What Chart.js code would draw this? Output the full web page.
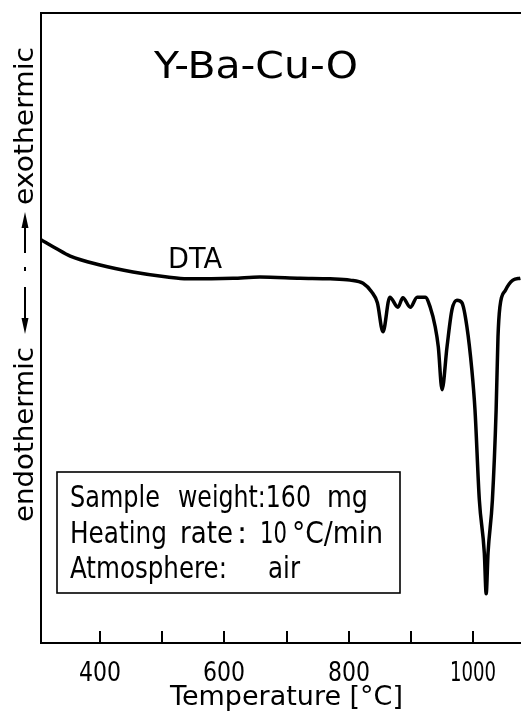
<!DOCTYPE html>
<html lang="en">
<head>
    <meta charset="UTF-8">
    <title>Y-Ba-Cu-O DTA</title>
    <script src="https://cdn.jsdelivr.net/npm/chart.js@4.4.1/dist/chart.umd.min.js"></script>
    <style>
        body {margin: 0; background: #fff;}
        #wrap {width: 521px; height: 716px;}
    </style>
</head>
<body>
    <div id="wrap">
        <canvas id="dtaChart" width="521" height="716"></canvas>
    </div>

    <script>
        // DTA trace (signal in arbitrary units, 0..100)
        const temperatures = [305, 328, 352, 400, 453, 508, 540, 614, 657, 722, 770, 802, 823, 837, 846, 855,
                              866, 879, 887, 899, 910, 923, 931, 939, 944, 950, 958, 966, 974, 982, 990, 998,
                              1003, 1010, 1018, 1021, 1024, 1031, 1037, 1040, 1043, 1052, 1064, 1076];
        const dtaSignal = [64.0, 62.7, 61.4, 60.0, 58.9, 58.1, 57.8, 57.9, 58.1, 57.9, 57.8, 57.6, 57.1, 55.7, 54.0, 49.4,
                           54.9, 53.3, 54.8, 53.3, 54.9, 54.9, 53.3, 50.2, 47.0, 40.2, 47.0, 52.9, 54.4, 54.0, 50.2, 43.3,
                           37.0, 22.7, 14.3, 7.8, 14.3, 22.7, 37.0, 48.6, 53.3, 56.0, 57.6, 57.9];
        const xTickValues = [400, 500, 600, 700, 800, 900, 1000];
        const xTickLabels = ['400', '', '600', '', '800', '', '1000'];

        const FONT = '"DejaVu Sans", sans-serif';

        // the lettering in the original is narrow, so squeeze text into a width
        function drawFit(ctx, text, x, y, size, width) {
            ctx.save();
            ctx.font = size + 'px ' + FONT;
            const w = ctx.measureText(text).width;
            const sx = width ? width / w : 1;
            ctx.translate(x, y);
            ctx.scale(sx, 1);
            ctx.fillText(text, 0, 0);
            ctx.restore();
        }

        // frame, inward ticks and all the hand-lettered texts
        const decorPlugin = {
            id: 'decor',
            afterDraw(chart) {
                const ctx = chart.ctx;
                const area = chart.chartArea;
                const xs = chart.scales.x;
                ctx.save();
                ctx.strokeStyle = '#000';
                ctx.fillStyle = '#000';
                ctx.textAlign = 'left';
                ctx.textBaseline = 'alphabetic';

                // top frame line
                ctx.lineWidth = 2;
                ctx.beginPath();
                ctx.moveTo(area.left, area.top);
                ctx.lineTo(area.right, area.top);
                ctx.stroke();

                // inward ticks + labels
                xTickValues.forEach(function (v, i) {
                    const px = Math.round(xs.getPixelForValue(v));
                    ctx.beginPath();
                    ctx.moveTo(px, area.bottom);
                    ctx.lineTo(px, area.bottom - 12);
                    ctx.stroke();
                    const lbl = xTickLabels[i];
                    if (lbl) {
                        const w = lbl.length > 3 ? 46 : 42;
                        drawFit(ctx, lbl, px - w / 2, 681, 27, w);
                    }
                });

                // title and curve label
                drawFit(ctx, 'Y-Ba-Cu-O', 154, 78, 37, 204);
                drawFit(ctx, 'DTA', 168, 268, 28, 54);

                // info box
                ctx.lineWidth = 1.6;
                ctx.strokeRect(57, 472, 343, 121);
                drawFit(ctx, 'Sample', 70, 507, 30, 90);
                drawFit(ctx, 'weight:160', 178, 507, 30, 133);
                drawFit(ctx, 'mg', 327, 507, 30, 41);
                drawFit(ctx, 'Heating', 70, 543, 30, 97);
                drawFit(ctx, 'rate', 180, 543, 30, 53);
                drawFit(ctx, ':', 237, 543, 30, 0);
                drawFit(ctx, '10', 260, 543, 30, 27);
                drawFit(ctx, '°C/min', 292, 543, 30, 91);
                drawFit(ctx, 'Atmosphere:', 70, 578, 30, 157);
                drawFit(ctx, 'air', 268, 578, 30, 32);

                // x axis title
                drawFit(ctx, 'Temperature [°C]', 170, 705, 26, 233);

                // y axis label with arrows
                ctx.save();
                ctx.translate(33, 0);
                ctx.rotate(-Math.PI / 2);
                drawFit(ctx, 'exothermic', -205, 0, 27, 158);
                drawFit(ctx, 'endothermic', -522, 0, 27, 175);
                ctx.restore();

                const ax = 25;
                ctx.lineWidth = 2;
                ctx.beginPath();
                ctx.moveTo(ax, 253); ctx.lineTo(ax, 224);
                ctx.moveTo(ax, 287); ctx.lineTo(ax, 322);
                ctx.stroke();
                ctx.beginPath();
                ctx.moveTo(ax, 212); ctx.lineTo(ax - 3.5, 228); ctx.lineTo(ax + 3.5, 228); ctx.closePath();
                ctx.moveTo(ax, 334); ctx.lineTo(ax - 3.5, 318); ctx.lineTo(ax + 3.5, 318); ctx.closePath();
                ctx.fill();
                ctx.fillRect(ax - 1, 267, 2, 4);

                ctx.restore();
            }
        };

        const ctx = document.getElementById('dtaChart').getContext('2d');
        const dtaChart = new Chart(ctx, {
            type: 'line',
            data: {
                datasets: [{
                    label: 'DTA',
                    data: temperatures.map(function (t, i) { return {x: t, y: dtaSignal[i]}; }),
                    borderColor: '#000',
                    borderWidth: 3.5,
                    pointRadius: 0,
                    fill: false,
                    cubicInterpolationMode: 'monotone'
                }]
            },
            options: {
                responsive: false,
                animation: false,
                layout: {padding: {left: 41, top: 13, right: 0, bottom: 0}},
                plugins: {
                    legend: {display: false},
                    tooltip: {enabled: false}
                },
                scales: {
                    x: {
                        type: 'linear',
                        min: 305,
                        max: 1077,
                        afterBuildTicks: function (axis) {
                            axis.ticks = xTickValues.map(function (v) { return {value: v}; });
                        },
                        afterFit: function (axis) { axis.height = 73; },
                        grid: {display: false, drawTicks: false},
                        border: {display: true, color: '#000', width: 2},
                        ticks: {display: false}
                    },
                    y: {
                        min: 0,
                        max: 100,
                        afterFit: function (axis) { axis.width = 0; },
                        grid: {display: false, drawTicks: false},
                        border: {display: true, color: '#000', width: 2},
                        ticks: {display: false}
                    }
                }
            },
            plugins: [decorPlugin]
        });
    </script>
</body>
</html>
